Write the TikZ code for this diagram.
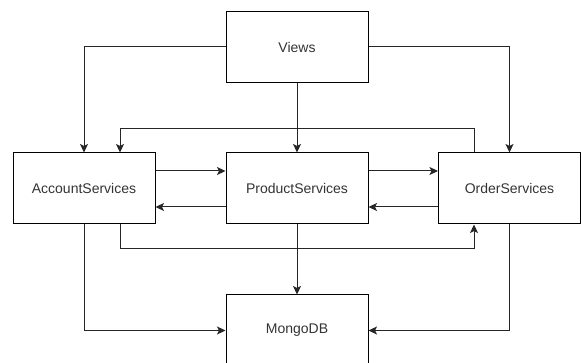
\documentclass[tikz,border=0pt]{standalone}
\usepackage{fontspec}
\setmainfont{Liberation Sans}
\usetikzlibrary{arrows.meta}

\begin{document}
\begin{tikzpicture}[x=1pt,y=-1pt,
  >={Stealth[length=8.5pt,width=8pt,inset=2pt]},
  box/.style={draw,line width=1pt,minimum width=142pt,minimum height=71pt,inner sep=0pt,
    font=\fontsize{14}{16}\selectfont,text=black!80},
  conn/.style={->,line width=1pt,black!85}]

\useasboundingbox (0,0) rectangle (581,363);

\node[box] (views) at (297,47) {Views};
\node[box] (acct) at (84,188.5) {AccountServices};
\node[box] (prod) at (297,188.5) {ProductServices};
\node[box] (order) at (509.5,188.5) {OrderServices};
\node[box] (mongo) at (297,330.5) {MongoDB};

\draw[conn] (views.west) -| (acct.north);
\draw[conn] (views.east) -| (order.north);
\draw[conn] (views.south) -- (prod.north);

\draw[conn] ([xshift=-35.5pt]order.north) -- ++(0,-24) -| ([xshift=36pt]acct.north);

\draw[conn] ([yshift=17.5pt]acct.east) -- ([yshift=17.5pt]prod.west);
\draw[conn] ([yshift=-18.5pt]prod.west) -- ([yshift=-18.5pt]acct.east);
\draw[conn] ([yshift=17.5pt]prod.east) -- ([yshift=17.5pt]order.west);
\draw[conn] ([yshift=-18.5pt]order.west) -- ([yshift=-18.5pt]prod.east);

\draw[conn] ([xshift=36pt]acct.south) -- ++(0,24) -| ([xshift=-35.5pt]order.south);

\draw[conn] (prod.south) -- (mongo.north);
\draw[conn] (acct.south) |- (mongo.west);
\draw[conn] (order.south) |- (mongo.east);
\end{tikzpicture}
\end{document}
